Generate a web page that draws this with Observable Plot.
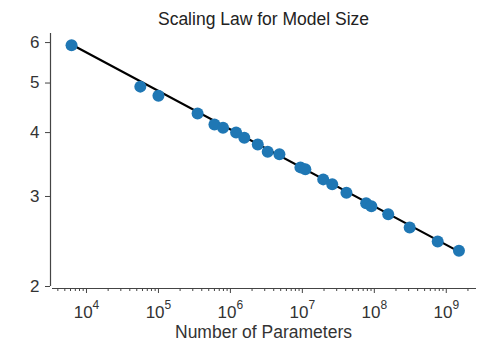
<!DOCTYPE html>
<html>
<head>
<meta charset="utf-8">
<script src="https://cdn.jsdelivr.net/npm/d3@7"></script>
<script src="https://cdn.jsdelivr.net/npm/@observablehq/plot@0.6"></script>
<style>
  html, body { margin: 0; padding: 0; background: #fff; }
  #chart svg { display: block; }
</style>
</head>
<body>
<div id="chart"></div>
<script>
const title = "Scaling Law for Model Size";
const xLabel = "Number of Parameters";

// Observed points (parameters, loss)
const params = [6200, 56000, 100000, 350000, 600000, 790000, 1200000, 1560000, 2400000, 3300000,
  4800000, 9400000, 11000000, 19500000, 26000000, 41000000, 77000000, 91000000, 156000000,
  310000000, 760000000, 1500000000];
const loss = [5.93, 4.92, 4.72, 4.36, 4.15, 4.09, 4.00, 3.91, 3.79, 3.67,
  3.63, 3.42, 3.39, 3.24, 3.17, 3.05, 2.91, 2.87, 2.77,
  2.61, 2.45, 2.35];

// Fitted power-law line endpoints
const fitX = [6200, 1500000000];
const fitY = [5.95, 2.34];

const yTicks = [2, 3, 4, 5, 6];
const xMajor = [1e4, 1e5, 1e6, 1e7, 1e8, 1e9];
const xMinor = [];
for (let e = 3; e <= 9; e++) for (let m = 2; m <= 9; m++) {
  const v = m * Math.pow(10, e);
  if (v > Math.pow(10, 3.5) && v < Math.pow(10, 9.42)) xMinor.push(v);
}

const points = params.map((p, i) => ({p, l: loss[i]}));
const fit = fitX.map((p, i) => ({p, l: fitY[i]}));

const gray = "#444";

const chart = Plot.plot({
  width: 481,
  height: 341,
  marginLeft: 50,
  marginRight: 5,
  marginTop: 33,
  marginBottom: 55,
  style: {fontFamily: "'Liberation Sans', Arial, sans-serif", fontSize: "16px", color: "#333", background: "#fff"},
  x: {type: "log", domain: [Math.pow(10, 3.5), Math.pow(10, 9.42)]},
  y: {type: "log", domain: [2, 6.25]},
  marks: [
    Plot.ruleX([Math.pow(10, 3.5)], {stroke: gray, strokeWidth: 1.2}),
    Plot.ruleY([2], {stroke: gray, strokeWidth: 1.2, dy: 2, insetLeft: 2}),
    Plot.axisY({ticks: yTicks, tickFormat: d => String(d), tickSize: 5, tickPadding: 6, stroke: gray, label: null}),
    Plot.axisX({ticks: xMinor, tickSize: 3, tickFormat: () => "", stroke: gray, dy: 2, label: null}),
    Plot.axisX({ticks: xMajor, tickSize: 5, tickPadding: 12, dy: 2, stroke: gray,
      tickFormat: d => "10^" + Math.round(Math.log10(d)),
      label: null}),
    Plot.text([xLabel], {frameAnchor: "bottom", dy: 51, fontSize: 17.5, fill: "#333"}),
    Plot.line(fit, {x: "p", y: "l", stroke: "black", strokeWidth: 2.2}),
    Plot.dot(points, {x: "p", y: "l", r: 6, fill: "#1f77b4", stroke: "none"}),
    Plot.text([title], {frameAnchor: "top", dy: -21, fontSize: 17.5, fill: "#222"})
  ]
});

// Tick label sizing and raised, smaller exponents
chart.querySelectorAll("text").forEach(t => {
  const s = t.textContent;
  const m = /^10\^(\d+)$/.exec(s);
  if (/^\d$/.test(s)) {
    t.style.fontSize = "17px";
    t.setAttribute("fill", "#333");
  }
  if (m) {
    t.textContent = "";
    t.style.fontSize = "17px";
    t.setAttribute("fill", "#333");
    const base = document.createElementNS("http://www.w3.org/2000/svg", "tspan");
    base.textContent = "10";
    const sup = document.createElementNS("http://www.w3.org/2000/svg", "tspan");
    sup.textContent = m[1];
    sup.setAttribute("dy", "-9");
    sup.setAttribute("style", "font-size:12px");
    t.appendChild(base);
    t.appendChild(sup);
  }
});

document.getElementById("chart").appendChild(chart);
</script>
</body>
</html>
